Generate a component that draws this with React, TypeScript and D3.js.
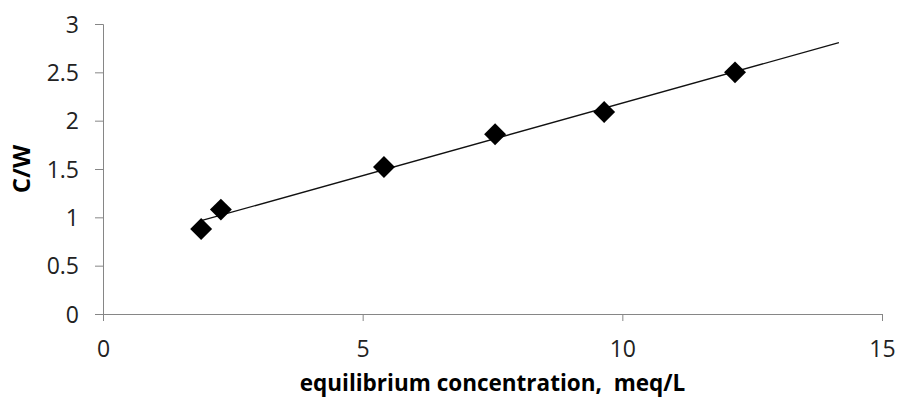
import { useRef, useEffect } from 'react';
import * as d3 from 'd3';

// equilibrium concentration (meq/L) and C/W
const concentration = [1.89, 2.27, 5.41, 7.55, 9.65, 12.17];
const cw = [0.88, 1.08, 1.52, 1.86, 2.09, 2.5];
const xTicks = [0, 5, 10, 15];
const yTicks = [0, 0.5, 1, 1.5, 2, 2.5, 3];
// linear trendline, forecast forward 2 units
const trendForward = 2;

export default function App() {
  const svgRef = useRef<SVGSVGElement>(null);

  useEffect(() => {
    if (!svgRef.current) return;
    const svg = d3.select(svgRef.current);
    svg.selectAll('*').remove();

    const width = 899;
    const height = 399;
    const margin = { top: 24, right: 17, bottom: 85, left: 103 };
    const innerW = width - margin.left - margin.right;
    const innerH = height - margin.top - margin.bottom;
    const font = '"Open Sans", sans-serif';
    const axisColor = '#868686';

    const xScale = d3.scaleLinear().domain([0, 15]).range([0, innerW]);
    const yScale = d3.scaleLinear().domain([0, 3]).range([innerH, 0]);

    const g = svg.append('g').attr('transform', `translate(${margin.left},${margin.top})`);

    // Axes
    g.append('g')
      .attr('transform', `translate(0,${innerH})`)
      .call(d3.axisBottom(xScale).tickValues(xTicks).tickSize(7).tickPadding(20).tickFormat((d) => `${d}`))
      .call((a) => {
        a.select('.domain').attr('stroke', axisColor);
        a.selectAll('line').attr('stroke', axisColor);
        a.selectAll('text').attr('fill', '#222').style('font-family', font).style('font-size', '23px');
      });
    g.append('g')
      .call(d3.axisLeft(yScale).tickValues(yTicks).tickSize(8).tickPadding(16).tickFormat((d) => `${d}`))
      .call((a) => {
        a.select('.domain').attr('stroke', axisColor);
        a.selectAll('line').attr('stroke', axisColor);
        a.selectAll('text').attr('fill', '#222').attr('dy', '0.36em').style('font-family', font).style('font-size', '23px');
      });

    // Trendline (least squares)
    const mx = d3.mean(concentration)!;
    const my = d3.mean(cw)!;
    const sxy = d3.sum(concentration, (x, i) => (x - mx) * (cw[i] - my));
    const sxx = d3.sum(concentration, (x) => (x - mx) ** 2);
    const slope = sxy / sxx;
    const intercept = my - slope * mx;
    const x0 = d3.min(concentration)!;
    const x1 = d3.max(concentration)! + trendForward;
    const trend = [x0, x1].map((x) => ({ x, y: intercept + slope * x }));

    const line = d3.line<{ x: number; y: number }>()
      .x((d) => xScale(d.x))
      .y((d) => yScale(d.y));
    g.append('path')
      .datum(trend)
      .attr('d', line)
      .attr('fill', 'none')
      .attr('stroke', '#111')
      .attr('stroke-width', 1.3);

    // Markers
    const diamond = d3.symbol(d3.symbolSquare, 240)();
    g.selectAll(null)
      .data(concentration.map((x, i) => ({ x, y: cw[i] })))
      .join('path')
      .attr('d', diamond)
      .attr('transform', (d) => `translate(${xScale(d.x)},${yScale(d.y)}) rotate(45)`)
      .attr('fill', '#000');

    // Labels
    svg.append('text')
      .attr('x', margin.left + innerW / 2).attr('y', 391)
      .attr('text-anchor', 'middle')
      .attr('fill', '#000')
      .style('font-family', font).style('font-size', '22.5px').style('font-weight', 'bold')
      .style('white-space', 'pre')
      .text('equilibrium concentration,  meq/L');
    svg.append('text')
      .attr('transform', `translate(30, ${margin.top + innerH / 2}) rotate(-90)`)
      .attr('text-anchor', 'middle')
      .attr('fill', '#000')
      .style('font-family', font).style('font-size', '24px').style('font-weight', 'bold')
      .text('C/W');
  }, []);

  return (
    <div style={{ position: 'fixed', left: 0, top: 0 }}>
      <svg ref={svgRef} width={899} height={399} style={{ display: 'block', background: '#fff' }} />
    </div>
  );
}
